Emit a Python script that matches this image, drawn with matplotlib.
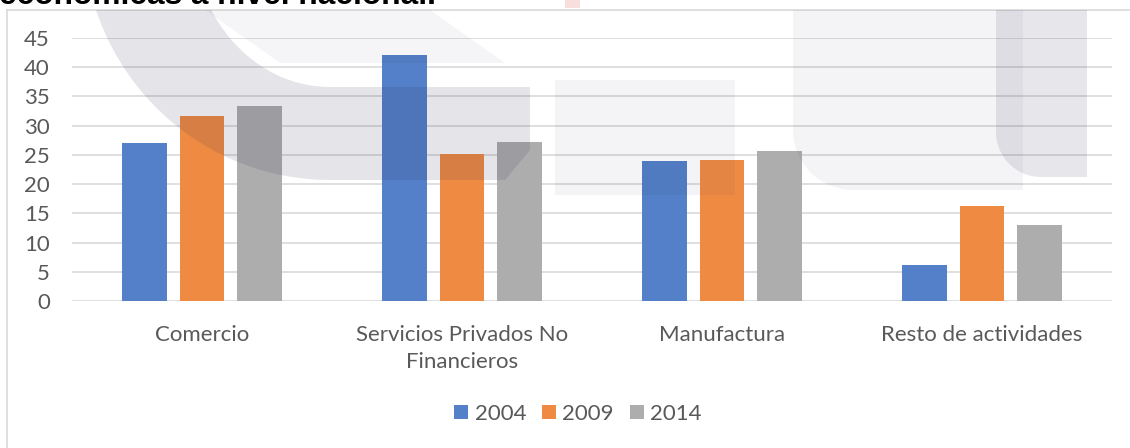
import numpy as np
import matplotlib
matplotlib.use("Agg")
import matplotlib.pyplot as plt
from matplotlib.patches import Polygon, Rectangle, Patch
from matplotlib.lines import Line2D

categories = ["Comercio", "Servicios Privados No\nFinancieros", "Manufactura",
              "Resto de actividades"]
years = ["2004", "2009", "2014"]
v2004 = [27.1, 42.1, 24.0, 6.1]
v2009 = [31.6, 25.1, 24.2, 16.3]
v2014 = [33.3, 27.2, 25.7, 13.0]
yticks = [0, 5, 10, 15, 20, 25, 30, 35, 40, 45]

COLORS = ["#5380c8", "#ef8a43", "#adadad"]
TXT = "#595959"
GRID = "#d9d9d9"
W, H = 1130, 448

plt.rcParams["font.family"] = ["Lato", "DejaVu Sans"]
fig = plt.figure(figsize=(W / 100, H / 100), dpi=100, facecolor="white")


def fx(x):
    return x / W


def fy(y):
    return 1 - y / H


# chart frame (left + top edges visible)
fig.add_artist(Line2D([fx(7), fx(7)], [fy(10), fy(H + 5)], color=GRID, lw=1.2))
fig.add_artist(Line2D([fx(7), fx(W + 5)], [fy(10), fy(10)], color=GRID, lw=1.2))

# cut-off heading above the chart
fig.text(fx(-1), fy(3.5), "económicas a nivel nacional.", fontsize=22.8, fontweight="bold",
         color="black", family=["Liberation Sans", "DejaVu Sans"], va="baseline")

# ---------------- bars ----------------
ax = fig.add_axes([fx(72), fy(301), 1040 / W, 263 / H])
x = np.arange(len(categories))
bw, step = 0.173, 0.223
for i, (vals, col, lab) in enumerate(zip([v2004, v2009, v2014], COLORS, years)):
    ax.bar(x + (i - 1) * step, vals, bw, color=col, label=lab, zorder=3)

ax.set_xlim(-0.5, 3.5)
ax.set_ylim(0, 45)
ax.set_yticks(yticks)
ax.set_xticks(x)
ax.set_xticklabels(categories, linespacing=1.45)
ax.grid(axis="y", color=GRID, lw=1.2)
ax.set_axisbelow(True)
for s in ax.spines.values():
    s.set_visible(False)
ax.tick_params(axis="y", length=0, pad=16, labelsize=16, labelcolor=TXT)
ax.tick_params(axis="x", length=0, pad=17, labelsize=16, labelcolor=TXT)

handles = [Patch(facecolor=c, edgecolor="none") for c in COLORS]
fig.legend(handles, years, loc="center", bbox_to_anchor=(fx(578), fy(414)), ncol=3,
           frameon=False, fontsize=16, labelcolor=TXT, handlelength=0.62,
           handleheight=0.62, handletextpad=0.3, columnspacing=0.72)

# ---------------- faint watermark over the chart ----------------
wm = fig.add_axes([fx(7), 0, 1 - fx(7), fy(10)])
wm.set_xlim(7, W)
wm.set_ylim(H, 10)
wm.axis("off")
wm.set_zorder(5)
INKWM = "#2a2850"

cx, cy = 330, -70
t = np.linspace(0, np.pi / 2, 40)
outer = np.c_[cx - 247 * np.cos(t), cy + 250 * np.sin(t)]
inner = np.c_[cx - 138 * np.cos(t), cy + 157 * np.sin(t)][::-1]
band = np.vstack([outer, [[505, 180], [530, 150], [530, 87]], inner])
wm.add_patch(Polygon(band, closed=True, facecolor=INKWM, alpha=0.12, edgecolor="none"))
wm.add_patch(Polygon([[205, 10], [430, 10], [505, 63], [280, 63]], closed=True,
                     facecolor=INKWM, alpha=0.045, edgecolor="none"))

wm.add_patch(Rectangle((555, 80), 180, 115, facecolor=INKWM, alpha=0.05, edgecolor="none"))
r = 60
tt = np.linspace(0, np.pi / 2, 20)
corner = np.c_[793 + r - r * np.cos(tt), 190 - r + r * np.sin(tt)]
wm.add_patch(Polygon(np.vstack([[[793, 0]], corner, [[1023, 190], [1023, 0]]]),
                     closed=True, facecolor=INKWM, alpha=0.05, edgecolor="none"))
r2 = 45
corner2 = np.c_[996 + r2 - r2 * np.cos(tt), 177 - r2 + r2 * np.sin(tt)]
wm.add_patch(Polygon(np.vstack([[[996, 0]], corner2, [[1087, 177], [1087, 0]]]),
                     closed=True, facecolor=INKWM, alpha=0.11, edgecolor="none"))

fig.patches.append(Rectangle((fx(565), fy(8)), 15 / W, 8 / H, transform=fig.transFigure,
                             facecolor="#f9dede", edgecolor="none"))

fig.savefig("out.png", dpi=100, facecolor="white")
